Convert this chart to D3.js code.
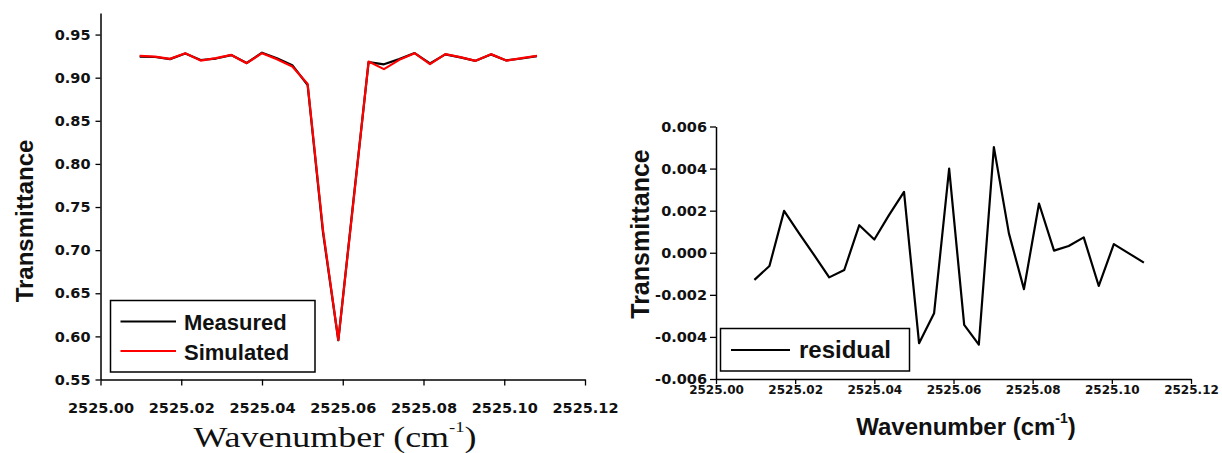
<!DOCTYPE html>
<html lang="en">
    <head>
        <meta charset="utf-8">
        <title>Transmittance and residual</title>
        <script type="text/javascript" src="https://cdn.jsdelivr.net/npm/d3@7"></script>
        <style>
            body { margin: 0; background: #fff; }
        </style>
    </head>
    <body>
        <script type="text/javascript">

            // wavenumber of each sample (cm-1)
            var wavenumber = [2525.0097, 2525.0135, 2525.0172, 2525.0210, 2525.0248, 2525.0286, 2525.0324,
                              2525.0362, 2525.0400, 2525.0437, 2525.0475, 2525.0513, 2525.0551, 2525.0589,
                              2525.0627, 2525.0664, 2525.0702, 2525.0740, 2525.0778, 2525.0816, 2525.0854,
                              2525.0891, 2525.0929, 2525.0967, 2525.1005, 2525.1043, 2525.1081];

            var measured = [0.9245, 0.9240, 0.9215, 0.9280, 0.9205, 0.9222, 0.9262, 0.9170, 0.9290,
                            0.9225, 0.9145, 0.8915, 0.7210, 0.5955, 0.7600, 0.9180, 0.9155, 0.9215,
                            0.9285, 0.9165, 0.9270, 0.9235, 0.9195, 0.9270, 0.9200, 0.9222, 0.9250];

            var simulated = [0.9253, 0.9245, 0.9218, 0.9284, 0.9198, 0.9226, 0.9264, 0.9168, 0.9284,
                             0.9215, 0.9129, 0.8928, 0.7234, 0.5958, 0.7582, 0.9187, 0.9099, 0.9207,
                             0.9284, 0.9157, 0.9273, 0.9238, 0.9195, 0.9273, 0.9198, 0.9226, 0.9253];

            var residual = [-0.00129, -0.00063, 0.00199, 0.00092, -0.00011, -0.00117, -0.00082, 0.00131,
                            0.00063, 0.00179, 0.00289, -0.00430, -0.00287, 0.00400, -0.00343, -0.00437,
                            0.00502, 0.00092, -0.00173, 0.00234, 0.00010, 0.00032, 0.00073, -0.00158,
                            0.00041, -0.00003, -0.00047];

            var xTicks = [2525.00, 2525.02, 2525.04, 2525.06, 2525.08, 2525.10, 2525.12];
            var leftYTicks = [0.55, 0.60, 0.65, 0.70, 0.75, 0.80, 0.85, 0.90, 0.95];
            var rightYTicks = [-0.006, -0.004, -0.002, 0.000, 0.002, 0.004, 0.006];

            var w = 1222;
            var h = 453;
            var tickFont = "'DejaVu Sans', sans-serif";
            var labelFont = "'Liberation Sans', Arial, sans-serif";

            var svg = d3.select("body")
                .append("svg")
                .attr("width", w)
                .attr("height", h);

            function midpoints(t) {
                return d3.pairs(t).map(function(p) { return (p[0] + p[1]) / 2; });
            }

            function styleAxis(g) {
                g.attr("font-family", tickFont).attr("font-weight", "bold");
                g.select(".domain").attr("stroke", "#000").attr("stroke-width", 1.5);
                g.selectAll(".tick line").attr("stroke", "#000").attr("stroke-width", 1.3);
                g.selectAll("text").attr("fill", "#111");
            }

            // ---------- left chart ----------
            var xL = d3.scaleLinear().domain([2525.00, 2525.12]).range([100.5, 585]);
            var yL = d3.scaleLinear().domain([0.55, 0.975]).range([379.5, 13]);

            var gxL = svg.append("g").attr("transform", "translate(0,379.5)");
            gxL.call(d3.axisBottom(xL).tickValues(midpoints(xTicks)).tickSize(3).tickSizeOuter(0).tickFormat(""));
            gxL.call(d3.axisBottom(xL).tickValues(xTicks).tickSize(6).tickSizeOuter(0)
                .tickFormat(function(d) { return d.toFixed(2); }));
            styleAxis(gxL);
            gxL.attr("font-size", 14.5);
            gxL.selectAll("text").attr("y", 33).attr("dy", 0);

            var gyL = svg.append("g").attr("transform", "translate(100.5,0)");
            gyL.call(d3.axisLeft(yL).tickValues(midpoints(leftYTicks)).tickSize(3).tickSizeOuter(0).tickFormat(""));
            gyL.call(d3.axisLeft(yL).tickValues(leftYTicks).tickSize(5).tickPadding(5).tickSizeOuter(0)
                .tickFormat(function(d) { return d.toFixed(2); }));
            styleAxis(gyL);
            gyL.attr("font-size", 14.5);

            var lineL = function(vals) {
                return d3.line()
                    .x(function(d, i) { return xL(wavenumber[i]); })
                    .y(function(d) { return yL(d); })(vals);
            };

            svg.append("path")
                .attr("d", lineL(measured))
                .attr("fill", "none")
                .attr("stroke", "#000")
                .attr("stroke-width", 2.2)
                .attr("stroke-linejoin", "round");

            svg.append("path")
                .attr("d", lineL(simulated))
                .attr("fill", "none")
                .attr("stroke", "#ff0000")
                .attr("stroke-width", 2.2)
                .attr("stroke-linejoin", "round");

            // legend
            var legL = svg.append("g");
            legL.append("rect")
                .attr("x", 110.5).attr("y", 300.5)
                .attr("width", 204.5).attr("height", 71.5)
                .attr("fill", "#fff").attr("stroke", "#000").attr("stroke-width", 1.5);
            [["Measured", "#000", 321.5, 330], ["Simulated", "#ff0000", 351, 360]].forEach(function(e) {
                legL.append("line")
                    .attr("x1", 120.5).attr("x2", 176)
                    .attr("y1", e[2]).attr("y2", e[2])
                    .attr("stroke", e[1]).attr("stroke-width", 2.2);
                legL.append("text")
                    .attr("x", 184).attr("y", e[3])
                    .attr("font-family", labelFont).attr("font-weight", "bold")
                    .attr("font-size", 22).attr("fill", "#111")
                    .text(e[0]);
            });

            svg.append("text")
                .attr("transform", "translate(33,221) rotate(-90)")
                .attr("text-anchor", "middle")
                .attr("font-family", labelFont).attr("font-weight", "bold")
                .attr("font-size", 24).attr("fill", "#111")
                .text("Transmittance");

            var tL = svg.append("text")
                .attr("transform", "translate(335,447) scale(1.24,1)")
                .attr("text-anchor", "middle")
                .attr("font-family", "'Liberation Serif', 'Times New Roman', serif")
                .attr("font-size", 29).attr("fill", "#111");
            tL.append("tspan").text("Wavenumber (cm");
            tL.append("tspan").attr("font-size", 15).attr("dy", -15).text("-1");
            tL.append("tspan").attr("dy", 15).text(")");

            // ---------- right chart ----------
            var xR = d3.scaleLinear().domain([2525.00, 2525.12]).range([716, 1191]);
            var yR = d3.scaleLinear().domain([-0.006, 0.006]).range([379, 126.5]);

            var gxR = svg.append("g").attr("transform", "translate(0,379)");
            gxR.call(d3.axisBottom(xR).tickValues(midpoints(xTicks)).tickSize(3).tickSizeOuter(0).tickFormat(""));
            gxR.call(d3.axisBottom(xR).tickValues(xTicks).tickSize(5).tickSizeOuter(0)
                .tickFormat(function(d) { return d.toFixed(2); }));
            styleAxis(gxR);
            gxR.attr("font-size", 12);
            gxR.selectAll("text").attr("y", 15).attr("dy", 0);

            var gyR = svg.append("g").attr("transform", "translate(716,0)");
            gyR.call(d3.axisLeft(yR).tickValues(midpoints(rightYTicks)).tickSize(3).tickSizeOuter(0).tickFormat(""));
            gyR.call(d3.axisLeft(yR).tickValues(rightYTicks).tickSize(6).tickPadding(3).tickSizeOuter(0)
                .tickFormat(function(d) { return d.toFixed(3); }));
            styleAxis(gyR);
            gyR.attr("font-size", 14.5);

            svg.append("path")
                .attr("d", d3.line()
                    .x(function(d, i) { return xR(wavenumber[i]); })
                    .y(function(d) { return yR(d); })(residual))
                .attr("fill", "none")
                .attr("stroke", "#000")
                .attr("stroke-width", 2.2)
                .attr("stroke-linejoin", "round");

            var legR = svg.append("g");
            legR.append("rect")
                .attr("x", 720.5).attr("y", 328.5)
                .attr("width", 189).attr("height", 42.5)
                .attr("fill", "#fff").attr("stroke", "#000").attr("stroke-width", 1.5);
            legR.append("line")
                .attr("x1", 731).attr("x2", 790)
                .attr("y1", 350).attr("y2", 350)
                .attr("stroke", "#000").attr("stroke-width", 2.2);
            legR.append("text")
                .attr("x", 799).attr("y", 358)
                .attr("font-family", labelFont).attr("font-weight", "bold")
                .attr("font-size", 24).attr("fill", "#111")
                .text("residual");

            svg.append("text")
                .attr("transform", "translate(649,234) rotate(-90)")
                .attr("text-anchor", "middle")
                .attr("font-family", labelFont).attr("font-weight", "bold")
                .attr("font-size", 25).attr("fill", "#111")
                .text("Transmittance");

            var tR = svg.append("text")
                .attr("x", 966).attr("y", 435)
                .attr("text-anchor", "middle")
                .attr("font-family", labelFont).attr("font-weight", "bold")
                .attr("font-size", 24).attr("fill", "#111");
            tR.append("tspan").text("Wavenumber (cm");
            tR.append("tspan").attr("font-size", 14).attr("dy", -12).text("-1");
            tR.append("tspan").attr("dy", 12).text(")");

        </script>
    </body>
</html>
